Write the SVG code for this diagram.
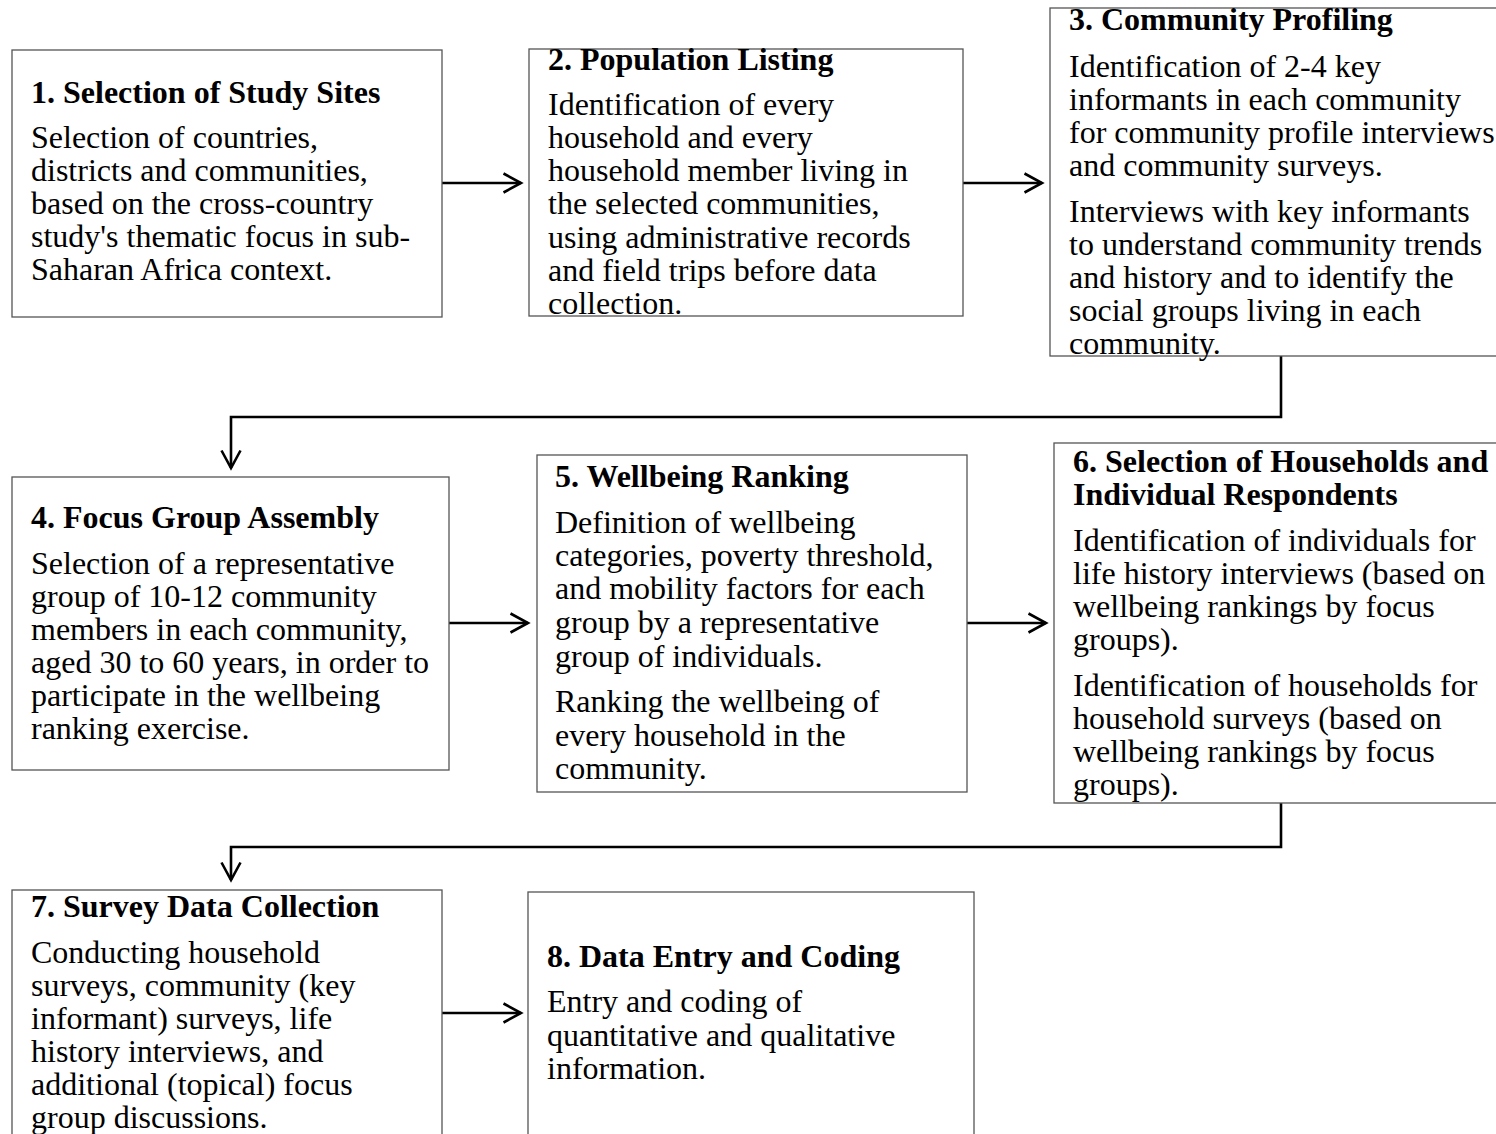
<svg xmlns="http://www.w3.org/2000/svg" width="1496" height="1134" viewBox="0 0 1496 1134">
<defs>
<style>
.box{fill:#fff;stroke:#555;stroke-width:1.3}
.t{font-family:"Liberation Serif","Times New Roman",serif;font-size:32px;fill:#000}
.b{font-weight:bold}
.c{fill:none;stroke:#000;stroke-width:2.6}
</style>
<marker id="arr" markerWidth="22" markerHeight="24" refX="19" refY="11" orient="auto" markerUnits="userSpaceOnUse">
<path d="M1.5,1.5 L19,11 L1.5,20.5" fill="none" stroke="#000" stroke-width="2.6"/>
</marker>
</defs>
<rect width="1496" height="1134" fill="#fff"/>
<g id="connectors">
<line class="c" x1="442" y1="183" x2="521" y2="183" marker-end="url(#arr)"/>
<line class="c" x1="963" y1="183" x2="1042" y2="183" marker-end="url(#arr)"/>
<path class="c" d="M1281,356 V417 H231 V468" marker-end="url(#arr)"/>
<line class="c" x1="449" y1="623" x2="528" y2="623" marker-end="url(#arr)"/>
<line class="c" x1="967" y1="623" x2="1046" y2="623" marker-end="url(#arr)"/>
<path class="c" d="M1281,803 V847 H231 V880" marker-end="url(#arr)"/>
<line class="c" x1="442" y1="1013" x2="521" y2="1013" marker-end="url(#arr)"/>
</g>
<g id="n1">
<rect class="box" x="12" y="50" width="430" height="267"/>
<text class="t b" x="31" y="103">1. Selection of Study Sites</text>
<text class="t" x="31" y="148">Selection of countries,</text>
<text class="t" x="31" y="181">districts and communities,</text>
<text class="t" x="31" y="214">based on the cross-country</text>
<text class="t" x="31" y="247">study's thematic focus in sub-</text>
<text class="t" x="31" y="280">Saharan Africa context.</text>
</g>
<g id="n2">
<rect class="box" x="529" y="49" width="434" height="267"/>
<text class="t b" x="548" y="70">2. Population Listing</text>
<text class="t" x="548" y="115">Identification of every</text>
<text class="t" x="548" y="148">household and every</text>
<text class="t" x="548" y="181">household member living in</text>
<text class="t" x="548" y="214">the selected communities,</text>
<text class="t" x="548" y="248">using administrative records</text>
<text class="t" x="548" y="281">and field trips before data</text>
<text class="t" x="548" y="314">collection.</text>
</g>
<g id="n3">
<rect class="box" x="1050" y="8" width="460" height="348"/>
<text class="t b" x="1069" y="30">3. Community Profiling</text>
<text class="t" x="1069" y="77">Identification of 2-4 key</text>
<text class="t" x="1069" y="110">informants in each community</text>
<text class="t" x="1069" y="143">for community profile interviews</text>
<text class="t" x="1069" y="176">and community surveys.</text>
<text class="t" x="1069" y="222">Interviews with key informants</text>
<text class="t" x="1069" y="255">to understand community trends</text>
<text class="t" x="1069" y="288">and history and to identify the</text>
<text class="t" x="1069" y="321">social groups living in each</text>
<text class="t" x="1069" y="354">community.</text>
</g>
<g id="n4">
<rect class="box" x="12" y="477" width="437" height="293"/>
<text class="t b" x="31" y="528">4. Focus Group Assembly</text>
<text class="t" x="31" y="574">Selection of a representative</text>
<text class="t" x="31" y="607">group of 10-12 community</text>
<text class="t" x="31" y="640">members in each community,</text>
<text class="t" x="31" y="673">aged 30 to 60 years, in order to</text>
<text class="t" x="31" y="706">participate in the wellbeing</text>
<text class="t" x="31" y="739">ranking exercise.</text>
</g>
<g id="n5">
<rect class="box" x="537" y="455" width="430" height="337"/>
<text class="t b" x="555" y="487">5. Wellbeing Ranking</text>
<text class="t" x="555" y="533">Definition of wellbeing</text>
<text class="t" x="555" y="566">categories, poverty threshold,</text>
<text class="t" x="555" y="599">and mobility factors for each</text>
<text class="t" x="555" y="633">group by a representative</text>
<text class="t" x="555" y="667">group of individuals.</text>
<text class="t" x="555" y="712">Ranking the wellbeing of</text>
<text class="t" x="555" y="746">every household in the</text>
<text class="t" x="555" y="779">community.</text>
</g>
<g id="n6">
<rect class="box" x="1054" y="443" width="460" height="360"/>
<text class="t b" x="1073" y="472">6. Selection of Households and</text>
<text class="t b" x="1073" y="505">Individual Respondents</text>
<text class="t" x="1073" y="551">Identification of individuals for</text>
<text class="t" x="1073" y="584">life history interviews (based on</text>
<text class="t" x="1073" y="617">wellbeing rankings by focus</text>
<text class="t" x="1073" y="650">groups).</text>
<text class="t" x="1073" y="696">Identification of households for</text>
<text class="t" x="1073" y="729">household surveys (based on</text>
<text class="t" x="1073" y="762">wellbeing rankings by focus</text>
<text class="t" x="1073" y="795">groups).</text>
</g>
<g id="n7">
<rect class="box" x="12" y="890" width="430" height="260"/>
<text class="t b" x="31" y="917">7. Survey Data Collection</text>
<text class="t" x="31" y="963">Conducting household</text>
<text class="t" x="31" y="996">surveys, community (key</text>
<text class="t" x="31" y="1029">informant) surveys, life</text>
<text class="t" x="31" y="1062">history interviews, and</text>
<text class="t" x="31" y="1095">additional (topical) focus</text>
<text class="t" x="31" y="1128">group discussions.</text>
</g>
<g id="n8">
<rect class="box" x="528" y="892" width="446" height="260"/>
<text class="t b" x="547" y="967">8. Data Entry and Coding</text>
<text class="t" x="547" y="1012">Entry and coding of</text>
<text class="t" x="547" y="1046">quantitative and qualitative</text>
<text class="t" x="547" y="1079">information.</text>
</g>
</svg>
